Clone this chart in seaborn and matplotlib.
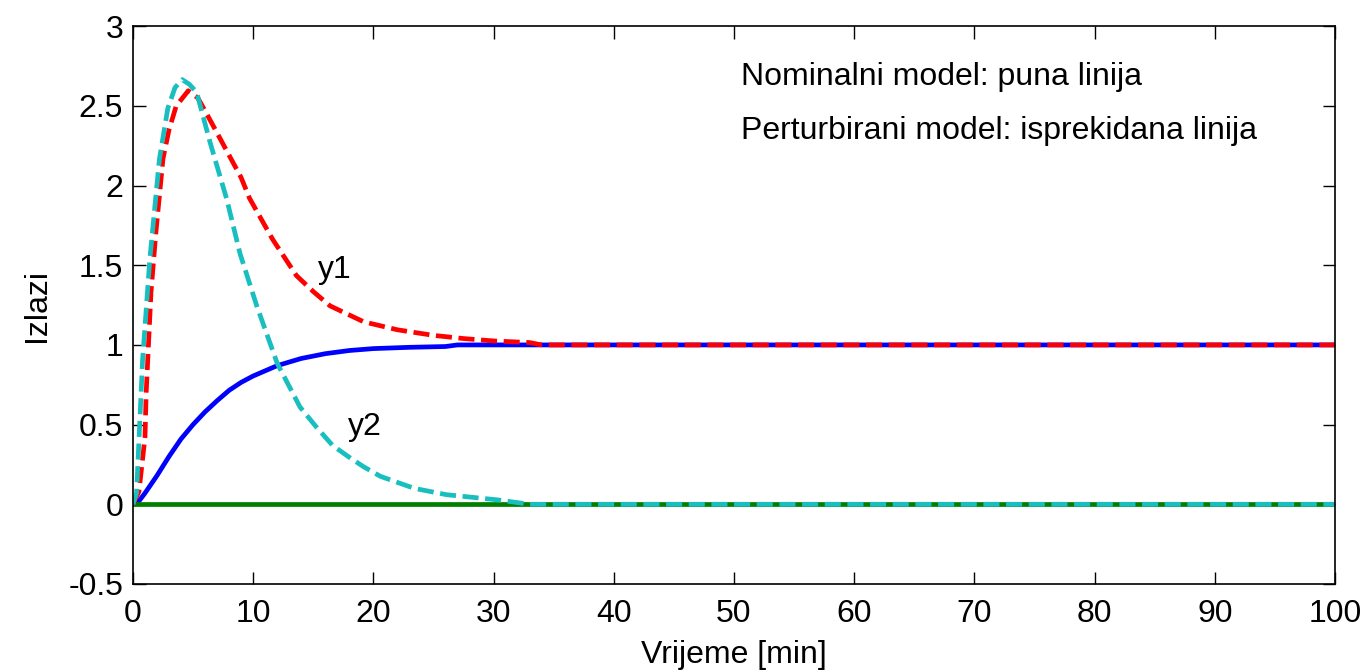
import numpy as np
import pandas as pd
import matplotlib
matplotlib.use("Agg")
import matplotlib.pyplot as plt
import seaborn as sns

# Nominal model, output y1 (solid blue)
t_nom_y1 = [0, 0.5, 1, 2, 3, 4, 5, 6, 7, 8, 9, 10, 12, 14, 16, 18, 20, 23, 26, 27, 100]
nom_y1 = [0, 0.02, 0.07, 0.18, 0.30, 0.41, 0.50, 0.58, 0.65, 0.715, 0.765, 0.805, 0.87, 0.915,
          0.945, 0.965, 0.977, 0.985, 0.99, 1.0, 1.0]

# Nominal model, output y2 (solid green)
t_nom_y2 = [0, 100]
nom_y2 = [0, 0]

# Perturbed model, output y1 (dashed red)
t_per_y1 = [0, 0.5, 1.0, 1.1, 1.5, 1.9, 2.5, 3.0, 3.6, 4.6, 5.4, 6.1, 7.0, 8.0, 9.0, 9.7,
            11.6, 13.6, 15.0, 16.4, 19.2, 22.0, 25.0, 27.5, 30.0, 33.0, 34.0, 100]
per_y1 = [0, 0.08, 0.42, 0.70, 1.33, 1.70, 2.17, 2.35, 2.50, 2.595, 2.55, 2.455, 2.33, 2.19,
          2.05, 1.92, 1.665, 1.435, 1.335, 1.245, 1.145, 1.095, 1.06, 1.04, 1.025, 1.015, 1.0, 1.0]

# Perturbed model, output y2 (dashed cyan)
t_per_y2 = [0, 0.3, 0.8, 1.4, 2.2, 2.9, 3.5, 4.1, 4.7, 5.3, 6.4, 7.8, 8.9, 10.3, 12.0, 13.0,
            13.9, 15.2, 16.6, 17.9, 19.2, 20.6, 23.4, 26.1, 30.3, 33.0, 100]
per_y2 = [0, 0.07, 0.905, 1.535, 2.165, 2.485, 2.615, 2.665, 2.635, 2.585, 2.275, 1.915,
          1.575, 1.245, 0.885, 0.74, 0.61, 0.49, 0.37, 0.30, 0.235, 0.175, 0.10, 0.06, 0.028,
          0.0, 0.0]

y_ticks = [-0.5, 0, 0.5, 1, 1.5, 2, 2.5, 3]
y_tick_labels = ["-0.5", "0", "0.5", "1", "1.5", "2", "2.5", "3"]
x_ticks = [0, 10, 20, 30, 40, 50, 60, 70, 80, 90, 100]

sns.set_theme(style="ticks")
plt.rcParams["font.family"] = ["Liberation Sans", "DejaVu Sans"]
plt.rcParams.update({"text.color": "black", "axes.labelcolor": "black",
                     "xtick.color": "black", "ytick.color": "black"})

FS = 23
fig = plt.figure(figsize=(13.65, 6.72), dpi=100)
ax = fig.add_axes([0.0974, 0.131, 0.8806, 0.830])

dash = (3.4, 1.4)
LW = 3.4
sns.lineplot(x=t_nom_y1, y=nom_y1, color="#0000FF", lw=LW, ax=ax, sort=False, estimator=None)
sns.lineplot(x=t_nom_y2, y=nom_y2, color="#007F00", lw=LW, ax=ax, sort=False, estimator=None)
sns.lineplot(x=t_per_y1, y=per_y1, color="#FF0000", lw=LW, ax=ax, sort=False, estimator=None,
             linestyle=(0, dash))
sns.lineplot(x=t_per_y2, y=per_y2, color="#19BFBF", lw=LW, ax=ax, sort=False, estimator=None,
             linestyle=(0, dash))

ax.set_xlim(0, 100)
ax.set_ylim(-0.5, 3)
ax.set_xticks(x_ticks)
ax.set_xticklabels([str(v) for v in x_ticks])
ax.set_yticks(y_ticks)
ax.set_yticklabels(y_tick_labels)
ax.tick_params(direction="in", top=True, right=True, length=9, width=1,
               labelsize=FS, colors="black")
ax.tick_params(axis="x", pad=11)
ax.tick_params(axis="y", pad=7)
for s in ax.spines.values():
    s.set_linewidth(1.2)
    s.set_color("black")

ax.set_xlabel("Vrijeme [min]", fontsize=FS, labelpad=8)
ax.set_ylabel("Izlazi", fontsize=FS, labelpad=12)

ax.text(15.4, 1.418, "y1", fontsize=FS, va="baseline", ha="left")
ax.text(17.9, 0.435, "y2", fontsize=FS, va="baseline", ha="left")
ax.text(50.6, 2.628, "Nominalni model: puna linija", fontsize=FS, va="baseline", ha="left")
ax.text(50.6, 2.292, "Perturbirani model: isprekidana linija", fontsize=FS, va="baseline", ha="left")

fig.savefig("out.png", dpi=100, facecolor="white")
